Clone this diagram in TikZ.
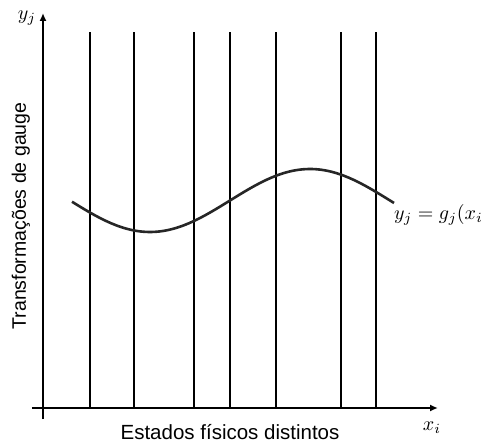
\documentclass[tikz,border=0pt]{standalone}
\usepackage{fontspec}
\setmainfont{Liberation Sans}
\usetikzlibrary{arrows.meta}

\begin{document}
\begin{tikzpicture}[x=1pt, y=1pt, mathlabel/.style={scale=2}]
    % Fix the bounding box (origin at the crossing of the axes)
    \useasboundingbox (-43, -36) rectangle (438, 408);

    % Coordinate axes
    \coordinate (xstart) at (-11, 0);
    \coordinate (xend) at (395, 0);
    \coordinate (ystart) at (0, -11);
    \coordinate (yend) at (0, 395);
    \draw[-{Latex[length=8pt, width=7pt]}, line width=1.6pt] (xstart) -- (xend);% Horizontal axis
    \draw[-{Latex[length=8pt, width=7pt]}, line width=1.6pt] (ystart) -- (yend);% Vertical axis
    \node[mathlabel] (xlabel) at (389, -20) {$x_i$};
    \node[mathlabel] (ylabel) at (-16, 390) {$y_j$};

    % Vertical lines: one for each distinct physical state
    \foreach \x in {47, 91, 151, 187, 233, 298, 333}
        \draw[black, line width=1.5pt] (\x, 0) -- (\x, 376);

    % Graph of the gauge choice y = g(x)
    \draw[black!85, line width=2.6pt, domain=29:351, samples=100] plot (\x, {207.5 - 31.5*cos(1.125*(\x - 107))});
    \node[mathlabel, anchor=west] (gauge) at (344, 193) {$y_j = g_j(x_i)$};

    % Axis titles
    \node[font=\fontsize{20.5}{24}\selectfont] (states) at (187, -24) {Estados físicos distintos};
    \node[rotate=90, font=\fontsize{19.5}{23}\selectfont] (transf) at (-22, 192) {Transformações de gauge};
\end{tikzpicture}
\end{document}
